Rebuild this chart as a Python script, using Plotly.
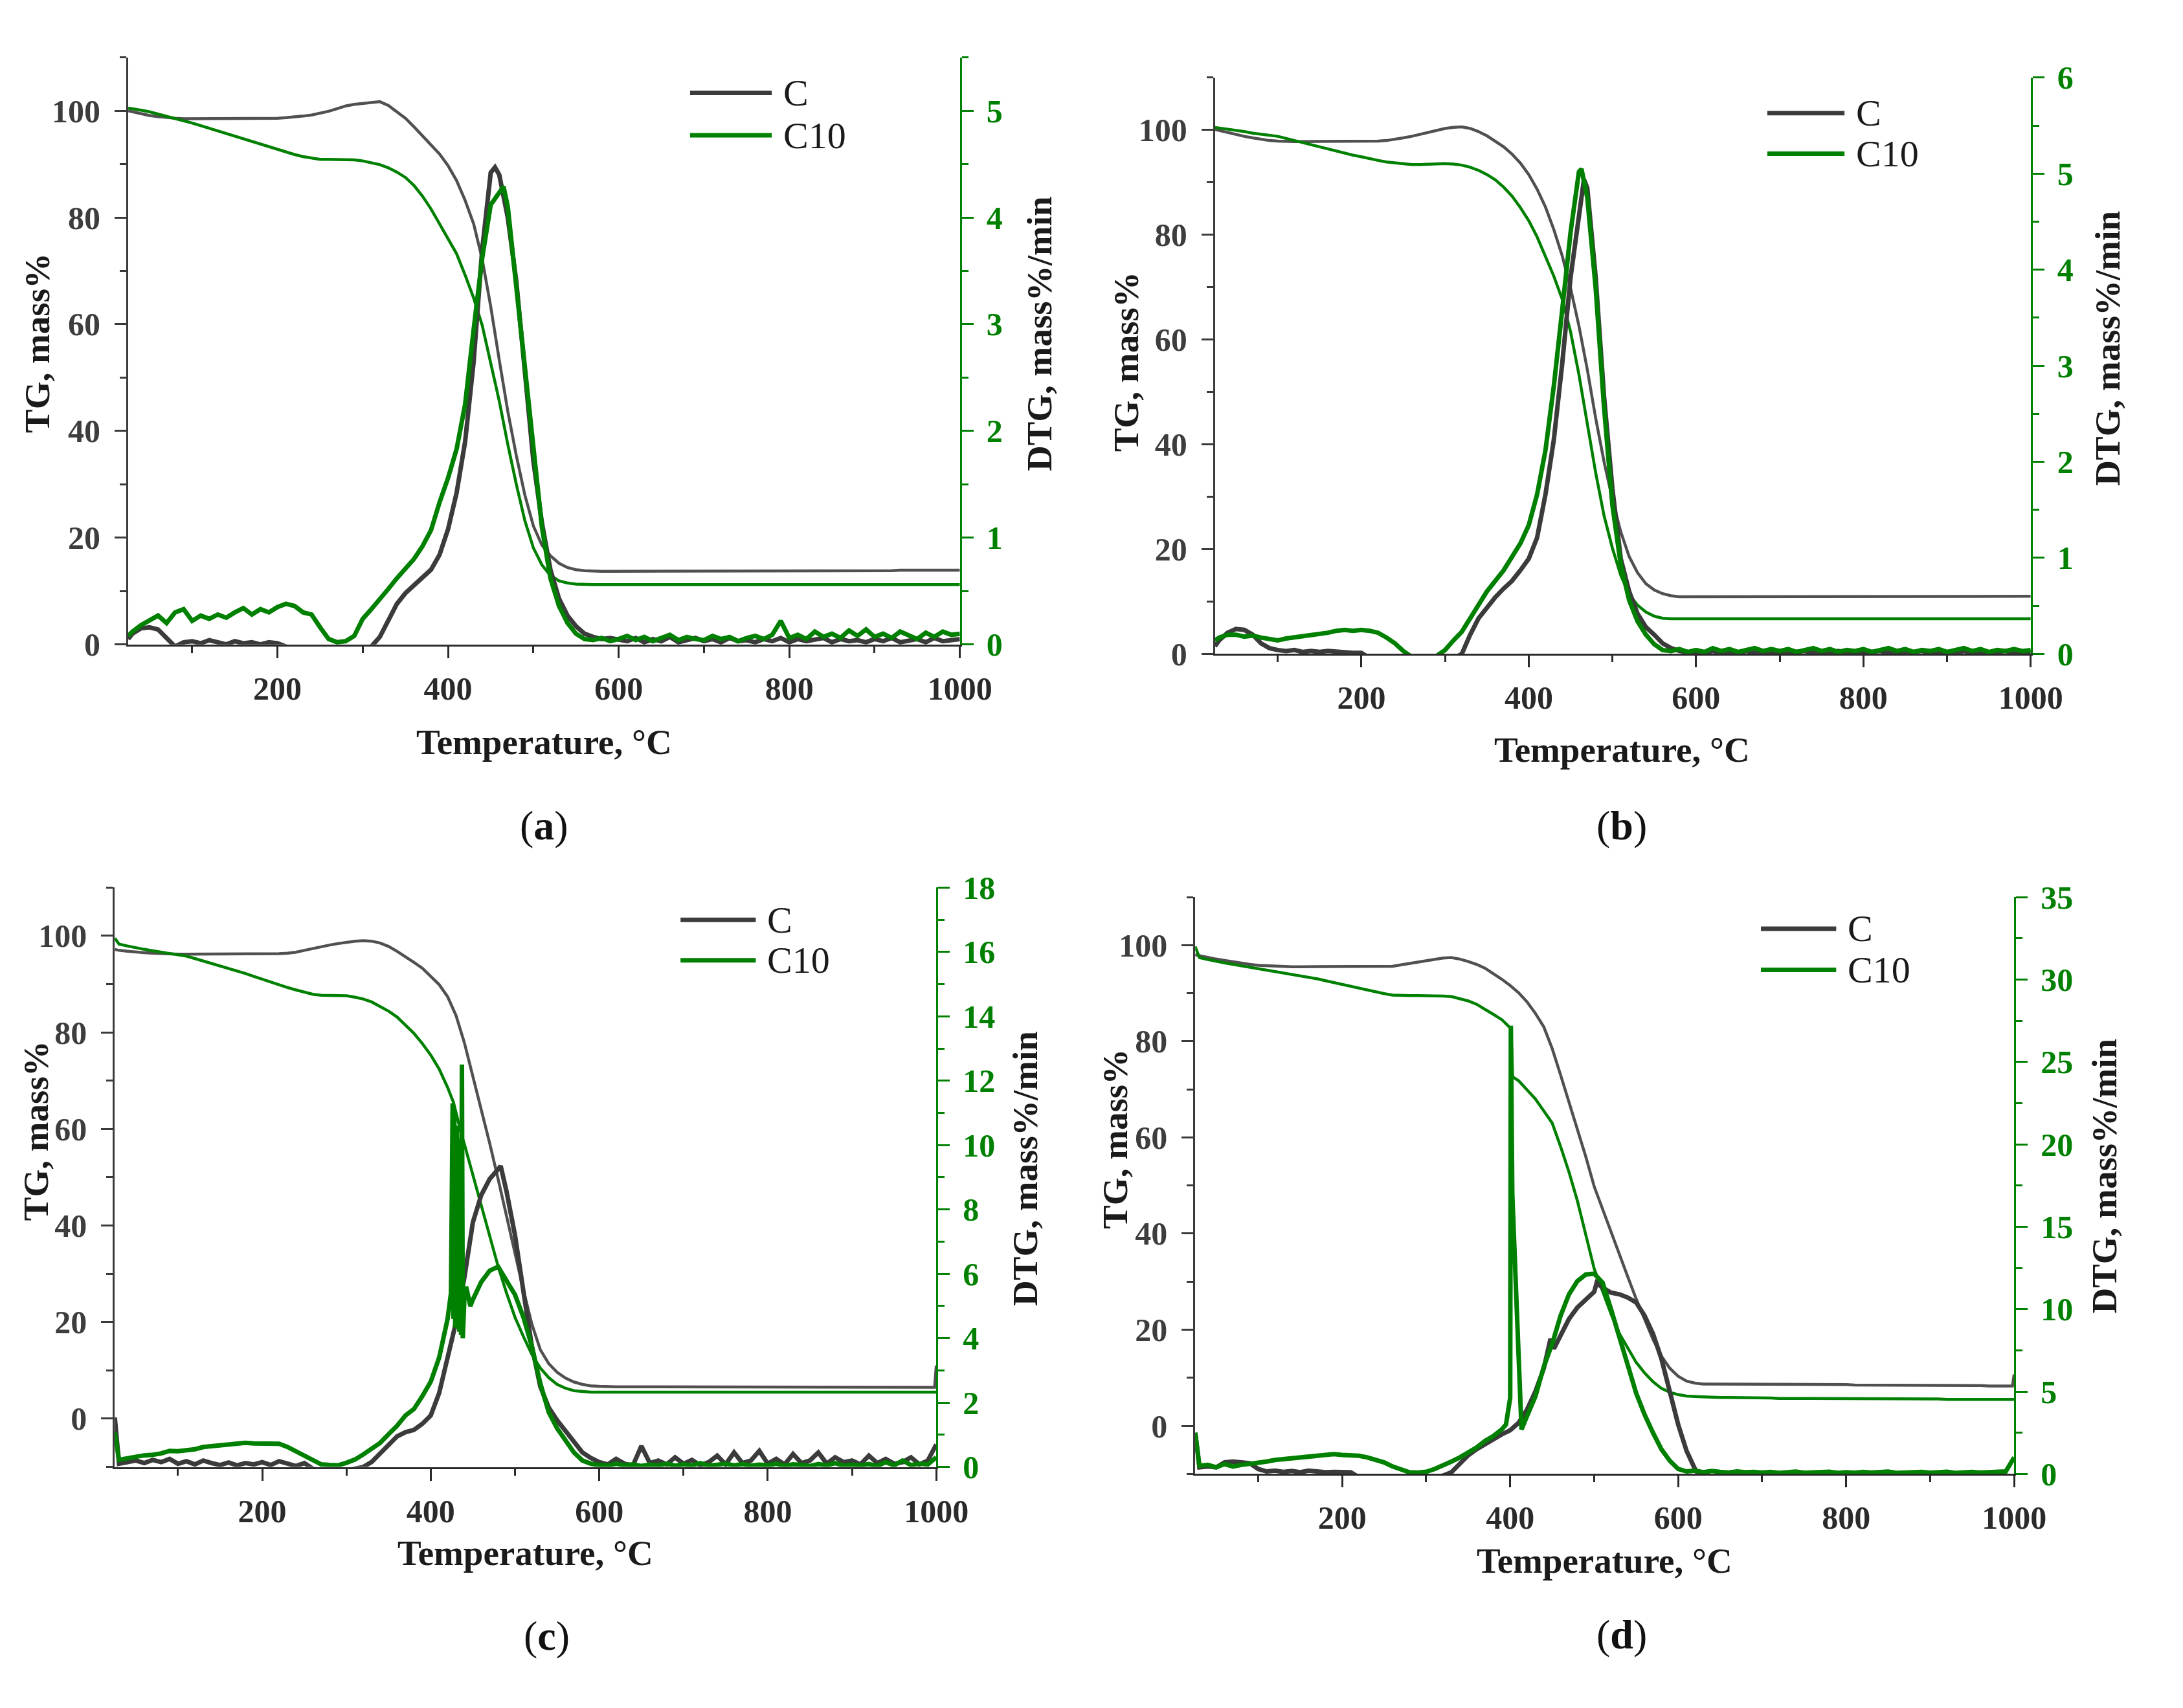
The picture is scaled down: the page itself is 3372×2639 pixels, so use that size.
import plotly.graph_objects as go

W, H = 3372, 2639
FONT = "Liberation Serif"
GRAY_TG = "#505050"
GRAY_DTG = "#3b3b3b"
GREEN = "#008000"
AXIS_DARK = "#2a2a2a"

# temperature grid shared by every series (°C)
GRID = [25, 30, 40, 50, 60, 70, 80, 90] + list(range(100, 1000, 10)) + [1000]

# ---------------- panel (a) ----------------
TG_C_A = [
    100.0, 99.8, 99.4, 99.1, 98.9, 98.7, 98.6, 98.5,
    98.5, 98.5, 98.5, 98.5, 98.5, 98.5, 98.5, 98.5, 98.5, 98.5,
    98.6, 98.7, 98.8, 99.0, 99.2, 99.5, 99.9, 100.4, 100.9, 101.2,
    101.4, 101.6, 101.7, 101.0, 99.8, 98.6, 97.0, 95.3, 93.6, 91.9,
    89.7, 86.9, 83.2, 78.8, 72.2, 63.3, 53.3, 43.7, 35.4, 28.0,
    22.2, 18.6, 16.6, 15.2, 14.4, 14.0, 13.8, 13.7, 13.7, 13.7,
    13.7, 13.7, 13.7, 13.7, 13.7, 13.7, 13.7, 13.7, 13.7, 13.7,
    13.7, 13.7, 13.7, 13.7, 13.7, 13.8, 13.8, 13.8, 13.8, 13.8,
    13.8, 13.8, 13.8, 13.8, 13.8, 13.8, 13.8, 13.8, 13.8, 13.8,
    13.8, 13.8, 13.8, 13.9, 13.9, 13.9, 13.9, 13.9, 13.9, 13.9,
    13.9,
]
TG_C10_A = [
    100.5, 100.4, 100.1, 99.8, 99.4, 99.0, 98.6, 98.2,
    97.7, 97.2, 96.7, 96.2, 95.7, 95.2, 94.7, 94.2, 93.8, 93.3,
    92.8, 92.3, 91.8, 91.4, 91.1, 90.9, 90.9, 90.9, 90.8, 90.8,
    90.6, 90.3, 89.9, 89.3, 88.5, 87.5, 86.0, 84.0, 81.6, 78.8,
    76.0, 73.2, 69.2, 64.9, 59.8, 52.7, 45.6, 37.5, 30.0, 23.2,
    18.1, 14.9, 12.9, 11.9, 11.5, 11.3, 11.2, 11.2, 11.2, 11.2,
    11.2, 11.2, 11.2, 11.2, 11.2, 11.2, 11.2, 11.2, 11.2, 11.2,
    11.2, 11.2, 11.2, 11.2, 11.2, 11.2, 11.2, 11.2, 11.2, 11.2,
    11.2, 11.2, 11.2, 11.2, 11.2, 11.2, 11.2, 11.2, 11.2, 11.2,
    11.2, 11.2, 11.2, 11.2, 11.2, 11.2, 11.2, 11.2, 11.2, 11.2,
    11.2,
]
DTG_C_A = [
    0.05, 0.10, 0.15, 0.16, 0.14, 0.06, -0.02, 0.02,
    0.03, 0.01, 0.04, 0.02, 0.00, 0.03, 0.01, 0.02, 0.00, 0.02,
    0.01, -0.02, -0.06, -0.10, -0.10, -0.10, -0.10, -0.10, -0.10, -0.10,
    -0.08, -0.02, 0.07, 0.22, 0.38, 0.48, 0.55, 0.62, 0.70, 0.84,
    1.08, 1.42, 1.90, 2.65, 3.70, 4.42, 4.40, 4.00, 3.40, 2.55,
    1.72, 1.14, 0.70, 0.43, 0.27, 0.17, 0.10, 0.07, 0.05, 0.06,
    0.05, 0.03, 0.06, 0.02, 0.05, 0.03, 0.07, 0.02, 0.04, 0.06,
    0.03, 0.05, 0.02, 0.06, 0.03, 0.04, 0.02, 0.05, 0.03, 0.06,
    0.02, 0.05, 0.03, 0.04, 0.06, 0.02, 0.05, 0.03, 0.04, 0.02,
    0.05, 0.03, 0.06, 0.02, 0.04, 0.05, 0.02, 0.06, 0.03, 0.04,
    0.05,
]
DTG_C_A_EXTRA = [(455, 4.47)]
DTG_C10_A = [
    0.08, 0.12, 0.18, 0.22, 0.27, 0.20, 0.30, 0.33,
    0.22, 0.27, 0.24, 0.28, 0.25, 0.30, 0.34, 0.28, 0.33, 0.30,
    0.35, 0.38, 0.36, 0.30, 0.28, 0.16, 0.05, 0.02, 0.03, 0.08,
    0.24, 0.33, 0.42, 0.52, 0.62, 0.71, 0.80, 0.92, 1.07, 1.33,
    1.56, 1.83, 2.25, 2.95, 3.62, 4.12, 4.24, 4.10, 3.35, 2.55,
    1.78, 1.10, 0.62, 0.36, 0.20, 0.10, 0.05, 0.04, 0.06, 0.03,
    0.05, 0.08, 0.04, 0.07, 0.03, 0.06, 0.09, 0.04, 0.07, 0.05,
    0.04, 0.08, 0.05, 0.07, 0.03, 0.06, 0.08, 0.05, 0.09, 0.22,
    0.06, 0.09, 0.05, 0.12, 0.07, 0.10, 0.06, 0.13, 0.08, 0.14,
    0.07, 0.10, 0.06, 0.12, 0.08, 0.05, 0.11, 0.07, 0.12, 0.09,
    0.10,
]
DTG_C10_A_EXTRA = [(465, 4.29)]

# ---------------- panel (b) ----------------
TG_C_B = [
    100.1, 99.9, 99.5, 99.2, 98.8, 98.5, 98.2, 98.0,
    97.9, 97.8, 97.8, 97.8, 97.8, 97.8, 97.8, 97.8, 97.8, 97.8,
    97.8, 97.8, 97.9, 98.0, 98.2, 98.5, 98.8, 99.2, 99.6, 100.0,
    100.3, 100.5, 100.6, 100.3, 99.7, 98.9, 97.9, 96.8, 95.4, 93.7,
    91.5, 88.7, 85.3, 81.0, 76.0, 69.8, 62.6, 54.3, 45.0, 36.7,
    29.5, 23.3, 18.6, 15.5, 13.4, 12.2, 11.5, 11.1, 10.9, 10.9,
    10.9, 10.9, 10.9, 10.9, 10.9, 10.9, 10.9, 10.9, 10.9, 10.9,
    10.9, 10.9, 10.9, 10.9, 10.9, 10.9, 10.9, 10.9, 10.9, 10.9,
    10.9, 10.9, 10.9, 10.9, 10.9, 10.9, 10.9, 10.9, 10.9, 10.9,
    10.9, 10.9, 10.9, 10.9, 10.9, 10.9, 10.9, 10.9, 10.9, 10.9,
    11.0,
]
TG_C10_B = [
    100.5, 100.4, 100.2, 99.9, 99.7, 99.4, 99.2, 99.0,
    98.8, 98.4, 98.0, 97.6, 97.1, 96.7, 96.3, 95.9, 95.5, 95.2,
    94.9, 94.5, 94.2, 93.9, 93.7, 93.6, 93.4, 93.4, 93.5, 93.6,
    93.6, 93.5, 93.3, 92.9, 92.3, 91.5, 90.5, 89.1, 87.4, 85.2,
    82.7, 79.6, 76.0, 72.1, 67.7, 61.5, 53.3, 44.0, 34.6, 26.4,
    20.2, 15.0, 11.4, 9.3, 8.0, 7.2, 6.8, 6.7, 6.7, 6.7,
    6.7, 6.7, 6.7, 6.7, 6.7, 6.7, 6.7, 6.7, 6.7, 6.7,
    6.7, 6.7, 6.7, 6.7, 6.7, 6.7, 6.7, 6.7, 6.7, 6.7,
    6.7, 6.7, 6.7, 6.7, 6.7, 6.7, 6.7, 6.7, 6.7, 6.7,
    6.7, 6.7, 6.7, 6.7, 6.7, 6.7, 6.7, 6.7, 6.7, 6.7,
    6.7,
]
DTG_C_B = [
    0.08, 0.14, 0.22, 0.26, 0.25, 0.20, 0.11, 0.06,
    0.04, 0.03, 0.04, 0.02, 0.03, 0.02, 0.03, 0.02, 0.02, 0.01,
    0.01, -0.05, -0.10, -0.10, -0.10, -0.10, -0.10, -0.10, -0.10, -0.10,
    -0.10, -0.05, 0.00, 0.20, 0.37, 0.48, 0.59, 0.68, 0.76, 0.87,
    0.99, 1.21, 1.66, 2.23, 3.02, 3.92, 4.60, 4.85, 3.92, 2.68,
    1.72, 0.99, 0.65, 0.42, 0.28, 0.20, 0.11, 0.06, 0.03, 0.02,
    0.02, 0.01, 0.03, 0.01, 0.02, 0.01, 0.03, 0.01, 0.02, 0.01,
    0.02, 0.01, 0.02, 0.03, 0.01, 0.02, 0.01, 0.03, 0.01, 0.02,
    0.01, 0.02, 0.03, 0.01, 0.02, 0.01, 0.02, 0.03, 0.01, 0.02,
    0.02, 0.01, 0.03, 0.01, 0.02, 0.01, 0.02, 0.03, 0.01, 0.02,
    0.02,
]
DTG_C_B_EXTRA = [(466, 4.94)]
DTG_C10_B = [
    0.14, 0.17, 0.20, 0.20, 0.18, 0.19, 0.17, 0.16,
    0.14, 0.16, 0.17, 0.18, 0.20, 0.21, 0.22, 0.24, 0.25, 0.24,
    0.25, 0.24, 0.22, 0.17, 0.11, 0.03, -0.03, -0.05, -0.05, -0.02,
    0.04, 0.14, 0.23, 0.37, 0.51, 0.65, 0.76, 0.87, 1.01, 1.15,
    1.34, 1.66, 2.12, 2.79, 3.58, 4.39, 5.02, 4.75, 3.81, 2.57,
    1.55, 0.93, 0.56, 0.34, 0.20, 0.10, 0.04, 0.03, 0.05, 0.02,
    0.04, 0.02, 0.06, 0.03, 0.05, 0.02, 0.04, 0.06, 0.03, 0.05,
    0.03, 0.05, 0.02, 0.04, 0.06, 0.03, 0.05, 0.02, 0.04, 0.03,
    0.05, 0.02, 0.04, 0.06, 0.03, 0.05, 0.02, 0.04, 0.03, 0.05,
    0.02, 0.04, 0.06, 0.03, 0.05, 0.02, 0.04, 0.03, 0.05, 0.03,
    0.04,
]
DTG_C10_B_EXTRA = [(463, 5.05)]

# ---------------- panel (c) ----------------
TG_C_C = [
    97.2, 97.0, 96.8, 96.6, 96.5, 96.4, 96.3, 96.3,
    96.2, 96.2, 96.2, 96.2, 96.2, 96.2, 96.2, 96.2, 96.2, 96.2,
    96.2, 96.2, 96.3, 96.4, 96.6, 97.0, 97.4, 97.8, 98.1, 98.4,
    98.7, 98.9, 99.0, 98.9, 98.5, 97.8, 96.8, 95.7, 94.5, 93.3,
    91.7, 89.9, 87.4, 83.5, 77.8, 71.0, 64.0, 57.0, 49.6, 41.8,
    34.0, 26.6, 19.6, 14.3, 11.4, 9.6, 8.4, 7.6, 7.1, 6.8,
    6.7, 6.6, 6.6, 6.6, 6.6, 6.6, 6.6, 6.6, 6.6, 6.6,
    6.6, 6.6, 6.6, 6.6, 6.6, 6.6, 6.6, 6.6, 6.6, 6.6,
    6.6, 6.6, 6.6, 6.6, 6.6, 6.6, 6.6, 6.6, 6.6, 6.6,
    6.6, 6.6, 6.6, 6.6, 6.6, 6.6, 6.6, 6.5, 6.5, 6.5,
    11.0,
]
TG_C_C_EXTRA = [(998, 6.5)]
TG_C10_C = [
    99.5, 98.3, 97.9, 97.5, 97.2, 96.9, 96.6, 96.3,
    96.1, 95.8, 95.3, 94.8, 94.3, 93.8, 93.3, 92.7, 92.2, 91.6,
    91.0, 90.4, 89.8, 89.3, 88.8, 88.3, 87.9, 87.7, 87.7, 87.6,
    87.6, 87.3, 86.9, 86.3, 85.4, 84.4, 83.2, 81.6, 79.8, 77.7,
    75.3, 72.4, 68.6, 63.3, 56.8, 50.5, 44.0, 37.5, 31.5, 26.0,
    21.0, 17.0, 13.3, 10.5, 8.5, 7.1, 6.3, 5.8, 5.6, 5.5,
    5.5, 5.5, 5.5, 5.5, 5.5, 5.5, 5.5, 5.5, 5.5, 5.5,
    5.5, 5.5, 5.5, 5.5, 5.5, 5.5, 5.5, 5.5, 5.5, 5.5,
    5.5, 5.5, 5.5, 5.5, 5.5, 5.5, 5.5, 5.5, 5.5, 5.5,
    5.5, 5.5, 5.5, 5.5, 5.5, 5.5, 5.5, 5.5, 5.5, 5.5,
    5.5,
]
TG_C10_C_EXTRA = [(427, 65.5), (437, 58.5)]
DTG_C_C = [
    1.54, 0.10, 0.15, 0.20, 0.12, 0.22, 0.15, 0.25,
    0.10, 0.18, 0.08, 0.20, 0.12, 0.06, 0.14, 0.05, 0.12, 0.08,
    0.15, 0.06, 0.18, 0.10, 0.03, 0.12, -0.05, -0.10, -0.10, -0.10,
    -0.10, -0.05, 0.00, 0.16, 0.43, 0.69, 0.95, 1.08, 1.15, 1.34,
    1.60, 2.30, 3.40, 4.50, 5.90, 7.60, 8.45, 8.95, 9.25, 8.55,
    7.20, 5.45, 3.75, 2.50, 1.85, 1.45, 1.10, 0.75, 0.45, 0.28,
    0.15, 0.08, 0.25, 0.10, 0.05, 0.65, 0.12, 0.20, 0.08, 0.30,
    0.10, 0.22, 0.05, 0.15, 0.35, 0.08, 0.45, 0.12, 0.20, 0.50,
    0.10, 0.25, 0.08, 0.40, 0.12, 0.20, 0.45, 0.10, 0.30, 0.15,
    0.20, 0.08, 0.35, 0.12, 0.25, 0.10, 0.15, 0.30, 0.08, 0.20,
    0.70,
]
DTG_C_C_EXTRA = [(483, 9.35)]
DTG_C10_C = [
    1.08, 0.22, 0.27, 0.32, 0.36, 0.38, 0.42, 0.50,
    0.49, 0.52, 0.55, 0.62, 0.64, 0.66, 0.69, 0.70, 0.75, 0.73,
    0.72, 0.73, 0.72, 0.62, 0.49, 0.36, 0.20, 0.08, 0.06, 0.05,
    0.13, 0.23, 0.39, 0.56, 0.75, 1.02, 1.28, 1.60, 1.80, 2.20,
    2.65, 3.40, 4.60, 4.40, 5.30, 5.20, 5.75, 6.10, 6.22, 5.80,
    5.35, 4.65, 3.75, 2.60, 1.70, 1.20, 0.80, 0.45, 0.20, 0.10,
    0.06, 0.04, 0.10, 0.05, 0.08, 0.03, 0.07, 0.05, 0.10, 0.04,
    0.08, 0.05, 0.12, 0.04, 0.07, 0.10, 0.05, 0.09, 0.04, 0.07,
    0.05, 0.10, 0.04, 0.08, 0.06, 0.03, 0.09, 0.05, 0.12, 0.04,
    0.07, 0.05, 0.09, 0.03, 0.15, 0.05, 0.20, 0.06, 0.10, 0.08,
    0.30,
]
DTG_C10_C_EXTRA = [
    (424, 5.4), (426, 11.3), (427, 4.6), (428, 11.0), (429, 4.4),
    (431, 10.6), (432, 4.3), (433, 9.8), (434, 4.2), (435, 10.2),
    (436, 4.1), (437, 12.5), (438, 4.0), (442, 5.6), (447, 5.0),
]

# ---------------- panel (d) ----------------
TG_C_D = [
    98.0, 97.8, 97.4, 97.1, 96.8, 96.5, 96.3, 96.0,
    95.8, 95.7, 95.6, 95.5, 95.5, 95.5, 95.5, 95.5, 95.5, 95.5,
    95.5, 95.5, 95.5, 95.5, 95.5, 95.5, 95.6, 95.9, 96.2, 96.5,
    96.8, 97.1, 97.3, 97.4, 97.1, 96.6, 96.0, 95.2, 94.1, 92.9,
    91.6, 90.1, 88.2, 85.8, 83.0, 78.5, 73.0, 67.5, 62.0, 56.0,
    49.8, 45.0, 40.3, 35.6, 31.0, 26.4, 22.0, 18.0, 14.5, 12.0,
    10.3, 9.3, 8.9, 8.7, 8.7, 8.7, 8.7, 8.7, 8.7, 8.7,
    8.7, 8.7, 8.7, 8.6, 8.6, 8.6, 8.6, 8.6, 8.6, 8.6,
    8.6, 8.5, 8.5, 8.5, 8.5, 8.5, 8.5, 8.5, 8.5, 8.5,
    8.4, 8.4, 8.4, 8.4, 8.4, 8.4, 8.4, 8.3, 8.3, 8.3,
    10.7,
]
TG_C_D_EXTRA = [(998, 8.3)]
TG_C10_D = [
    99.7, 97.4, 97.0, 96.6, 96.3, 96.0, 95.7, 95.5,
    95.2, 94.9, 94.6, 94.3, 94.0, 93.7, 93.4, 93.0, 92.6, 92.2,
    91.8, 91.4, 91.0, 90.6, 90.2, 89.9, 89.6, 89.5, 89.5, 89.5,
    89.5, 89.5, 89.4, 89.3, 88.9, 88.4, 87.7, 86.7, 85.6, 84.5,
    82.8, 71.8, 70.0, 68.0, 65.5, 63.0, 58.1, 52.8, 46.8, 39.7,
    32.7, 28.0, 23.3, 19.2, 16.2, 13.2, 11.0, 9.2, 7.8, 7.0,
    6.5, 6.2, 6.1, 6.0, 6.0, 5.9, 5.9, 5.9, 5.8, 5.8,
    5.8, 5.8, 5.7, 5.7, 5.7, 5.7, 5.7, 5.7, 5.7, 5.7,
    5.7, 5.6, 5.6, 5.6, 5.6, 5.6, 5.6, 5.6, 5.6, 5.6,
    5.6, 5.6, 5.5, 5.5, 5.5, 5.5, 5.5, 5.5, 5.5, 5.5,
    5.5,
]
TG_C10_D_EXTRA = [(401, 82.4), (403, 72.6)]
DTG_C_D = [
    2.50, 0.40, 0.45, 0.40, 0.70, 0.75, 0.70, 0.65,
    0.30, 0.15, 0.20, 0.12, 0.18, 0.10, 0.20, 0.15, 0.10, 0.12,
    0.08, 0.10, -0.20, -0.30, -0.30, -0.30, -0.30, -0.30, -0.30, -0.30,
    -0.30, -0.20, -0.10, 0.10, 0.60, 1.13, 1.50, 1.80, 2.15, 2.40,
    2.65, 3.10, 3.90, 5.00, 6.40, 7.90, 8.40, 9.40, 10.10, 10.60,
    11.05, 11.30, 11.00, 10.90, 10.70, 10.40, 9.60, 8.50, 7.00, 5.00,
    3.00, 1.40, 0.30, -0.50, -0.50, -0.50, -0.50, -0.50, -0.50, -0.50,
    -0.50, -0.50, -0.50, -0.50, -0.50, -0.50, -0.50, -0.50, -0.50, -0.50,
    -0.50, -0.50, -0.50, -0.50, -0.50, -0.50, -0.50, -0.50, -0.50, -0.50,
    -0.50, -0.50, -0.50, -0.50, -0.50, -0.50, -0.50, -0.50, -0.50, -0.50,
    -0.50,
]
DTG_C_D_EXTRA = [(448, 8.2), (452, 7.6), (503, 11.6)]
DTG_C10_D = [
    2.50, 0.50, 0.55, 0.40, 0.60, 0.45, 0.55, 0.60,
    0.70, 0.75, 0.85, 0.90, 0.95, 1.00, 1.10, 1.15, 1.15, 1.20,
    1.15, 1.15, 1.10, 1.00, 0.85, 0.70, 0.45, 0.25, 0.10, 0.08,
    0.13, 0.30, 0.50, 0.75, 1.00, 1.30, 1.60, 2.00, 2.30, 2.70,
    4.60, 7.20, 3.50, 4.70, 6.50, 7.90, 9.60, 10.90, 11.70, 12.10,
    12.15, 11.60, 10.00, 8.20, 6.60, 4.90, 3.60, 2.50, 1.50, 0.80,
    0.30, 0.15, 0.20, 0.10, 0.18, 0.12, 0.08, 0.15, 0.10, 0.12,
    0.08, 0.12, 0.06, 0.10, 0.14, 0.07, 0.11, 0.09, 0.13, 0.06,
    0.10, 0.07, 0.12, 0.08, 0.11, 0.14, 0.06, 0.10, 0.08, 0.12,
    0.07, 0.10, 0.13, 0.06, 0.09, 0.12, 0.08, 0.10, 0.07, 0.15,
    1.00,
]
DTG_C10_D_EXTRA = [(395, 3.0), (399, 4.3), (400.8, 27.2), (402.5, 17.0), (413.5, 2.7)]

SERIES_NAMES = ["C", "C10"]

# panel geometry in picture pixels: plot box (left, top, right, bottom)
PANELS = [
    dict(label="a", box=(201, 62, 1505, 989), tg_range=[0, 110], dtg_range=[0, 5.5],
         dtg_dtick=1, dtg_minor=0.5,
         series=[(TG_C_A, []), (TG_C10_A, []), (DTG_C_A, DTG_C_A_EXTRA), (DTG_C10_A, DTG_C10_A_EXTRA)],
         legend=(1082, 1210, 118, 185), ytitle_l=(59, 513), ytitle_r=(1629, 498),
         xtitle=(853, 1143), tag=(853, 1275)),
    dict(label="b", box=(1905, 94, 3184, 1004), tg_range=[0, 110], dtg_range=[0, 6],
         dtg_dtick=1, dtg_minor=0.5,
         series=[(TG_C_B, []), (TG_C10_B, []), (DTG_C_B, DTG_C_B_EXTRA), (DTG_C10_B, DTG_C10_B_EXTRA)],
         legend=(2771, 2892, 150, 214), ytitle_l=(1765, 543), ytitle_r=(3305, 521),
         xtitle=(2543, 1155), tag=(2543, 1275)),
    dict(label="c", box=(180, 1373, 1468, 2288), tg_range=[-10, 110], dtg_range=[0, 18],
         dtg_dtick=2, dtg_minor=1,
         series=[(TG_C_C, TG_C_C_EXTRA), (TG_C10_C, TG_C10_C_EXTRA), (DTG_C_C, DTG_C_C_EXTRA), (DTG_C10_C, DTG_C10_C_EXTRA)],
         legend=(1067, 1185, 1424, 1488), ytitle_l=(56, 1757), ytitle_r=(1608, 1817),
         xtitle=(824, 2424), tag=(857, 2555)),
    dict(label="d", box=(1874, 1388, 3158, 2299), tg_range=[-10, 110], dtg_range=[0, 35],
         dtg_dtick=5, dtg_minor=2.5,
         series=[(TG_C_D, TG_C_D_EXTRA), (TG_C10_D, TG_C10_D_EXTRA), (DTG_C_D, DTG_C_D_EXTRA), (DTG_C10_D, DTG_C10_D_EXTRA)],
         legend=(2761, 2879, 1438, 1503), ytitle_l=(1749, 1770), ytitle_r=(3299, 1829),
         xtitle=(2516, 2436), tag=(2543, 2553)),
]


def merged(values, extra):
    assert len(values) == len(GRID), len(values)
    pts = dict(zip(GRID, values))
    pts.update(dict(extra))
    ts = sorted(pts)
    return ts, [pts[t] for t in ts]


def ax_id(prefix, k):
    return prefix if k == 1 else f"{prefix}{k}"


def px_x(x):
    return x / W


def px_y(y):
    return 1 - y / H


fig = go.Figure()
layout = {}
shapes = []
annotations = []

line_styles = [
    (GRAY_TG, 4.5, "left"),
    (GREEN, 4.5, "left"),
    (GRAY_DTG, 7, "right"),
    (GREEN, 7, "right"),
]

for i, p in enumerate(PANELS):
    n = i + 1
    yl, yr = 2 * n - 1, 2 * n
    left, top, right, bottom = p["box"]

    for k, ((vals, extra), (color, width, side)) in enumerate(zip(p["series"], line_styles)):
        ts, vs = merged(vals, extra)
        fig.add_trace(go.Scatter(
            x=ts, y=vs, mode="lines",
            name=SERIES_NAMES[k % 2],
            line={"color": color, "width": width},
            xaxis=ax_id("x", n),
            yaxis=ax_id("y", yl if side == "left" else yr),
            showlegend=False,
        ))

    tick_font = {"family": FONT, "size": 50, "color": AXIS_DARK, "weight": "bold"}
    layout[ax_id("xaxis", n)] = dict(
        domain=[px_x(left), px_x(right)], anchor=ax_id("y", yl),
        range=[25, 1000], tick0=0, dtick=200,
        showline=True, linecolor=AXIS_DARK, linewidth=3,
        ticks="outside", ticklen=18, tickwidth=3, tickcolor=AXIS_DARK,
        minor={"ticks": "outside", "dtick": 100, "tick0": 0, "ticklen": 10,
               "tickwidth": 3, "tickcolor": AXIS_DARK},
        tickfont=tick_font, ticklabelstandoff=4,
        showgrid=False, zeroline=False,
    )
    layout[ax_id("yaxis", yl)] = dict(
        domain=[px_y(bottom), px_y(top)], anchor=ax_id("x", n),
        range=p["tg_range"], tick0=0, dtick=20,
        showline=True, linecolor="#3a3a3a", linewidth=3,
        ticks="outside", ticklen=18, tickwidth=3, tickcolor="#3a3a3a",
        minor={"ticks": "outside", "dtick": 10, "tick0": 0, "ticklen": 10,
               "tickwidth": 3, "tickcolor": "#3a3a3a"},
        tickfont={**tick_font, "color": "#3d3d3d"}, ticklabelstandoff=12,
        showgrid=False, zeroline=False,
    )
    layout[ax_id("yaxis", yr)] = dict(
        overlaying=ax_id("y", yl), side="right", anchor=ax_id("x", n),
        range=p["dtg_range"], tick0=0, dtick=p["dtg_dtick"],
        showline=True, linecolor=GREEN, linewidth=3,
        ticks="outside", ticklen=18, tickwidth=3, tickcolor=GREEN,
        minor={"ticks": "outside", "dtick": p["dtg_minor"], "tick0": 0, "ticklen": 10,
               "tickwidth": 3, "tickcolor": GREEN},
        tickfont={**tick_font, "color": GREEN}, ticklabelstandoff=10,
        showgrid=False, zeroline=False,
    )

    # legend drawn inside the panel
    lx0, lx1, ly_c, ly_c10 = p["legend"]
    for ly, color, text in [(ly_c, GRAY_DTG, "C"), (ly_c10, GREEN, "C10")]:
        shapes.append(dict(type="line", xref="paper", yref="paper",
                           x0=px_x(lx0), x1=px_x(lx1), y0=px_y(ly), y1=px_y(ly),
                           line={"color": color, "width": 7}))
        annotations.append(dict(text=text, xref="paper", yref="paper",
                                x=px_x(lx1 + 16), y=px_y(ly), xanchor="left", yanchor="middle",
                                showarrow=False,
                                font={"family": FONT, "size": 58, "color": "#1a1a1a"}))

    title_font = {"family": FONT, "size": 55, "color": "#1a1a1a"}
    annotations.append(dict(text="<b>TG, mass%</b>", xref="paper", yref="paper",
                            x=px_x(p["ytitle_l"][0]), y=px_y(p["ytitle_l"][1]),
                            textangle=-90, showarrow=False, font=title_font,
                            xanchor="center", yanchor="middle"))
    annotations.append(dict(text="<b>DTG, mass%/min</b>", xref="paper", yref="paper",
                            x=px_x(p["ytitle_r"][0]), y=px_y(p["ytitle_r"][1]),
                            textangle=-90, showarrow=False, font=title_font,
                            xanchor="center", yanchor="middle"))
    annotations.append(dict(text="<b>Temperature, °C</b>", xref="paper", yref="paper",
                            x=px_x(p["xtitle"][0]), y=px_y(p["xtitle"][1]),
                            showarrow=False, font=title_font,
                            xanchor="center", yanchor="middle"))
    annotations.append(dict(text=f"(<b>{p['label']}</b>)", xref="paper", yref="paper",
                            x=px_x(p["tag"][0]), y=px_y(p["tag"][1]),
                            showarrow=False,
                            font={"family": FONT, "size": 64, "color": "#111111"},
                            xanchor="center", yanchor="middle"))

fig.update_layout(
    width=W, height=H, autosize=False,
    margin={"l": 0, "r": 0, "t": 0, "b": 0},
    paper_bgcolor="white", plot_bgcolor="white",
    showlegend=False,
    shapes=shapes, annotations=annotations,
    **layout,
)

fig.write_html(
    "out.html",
    config={"displayModeBar": False},
    post_script="document.body.style.margin = '0px';",
)
